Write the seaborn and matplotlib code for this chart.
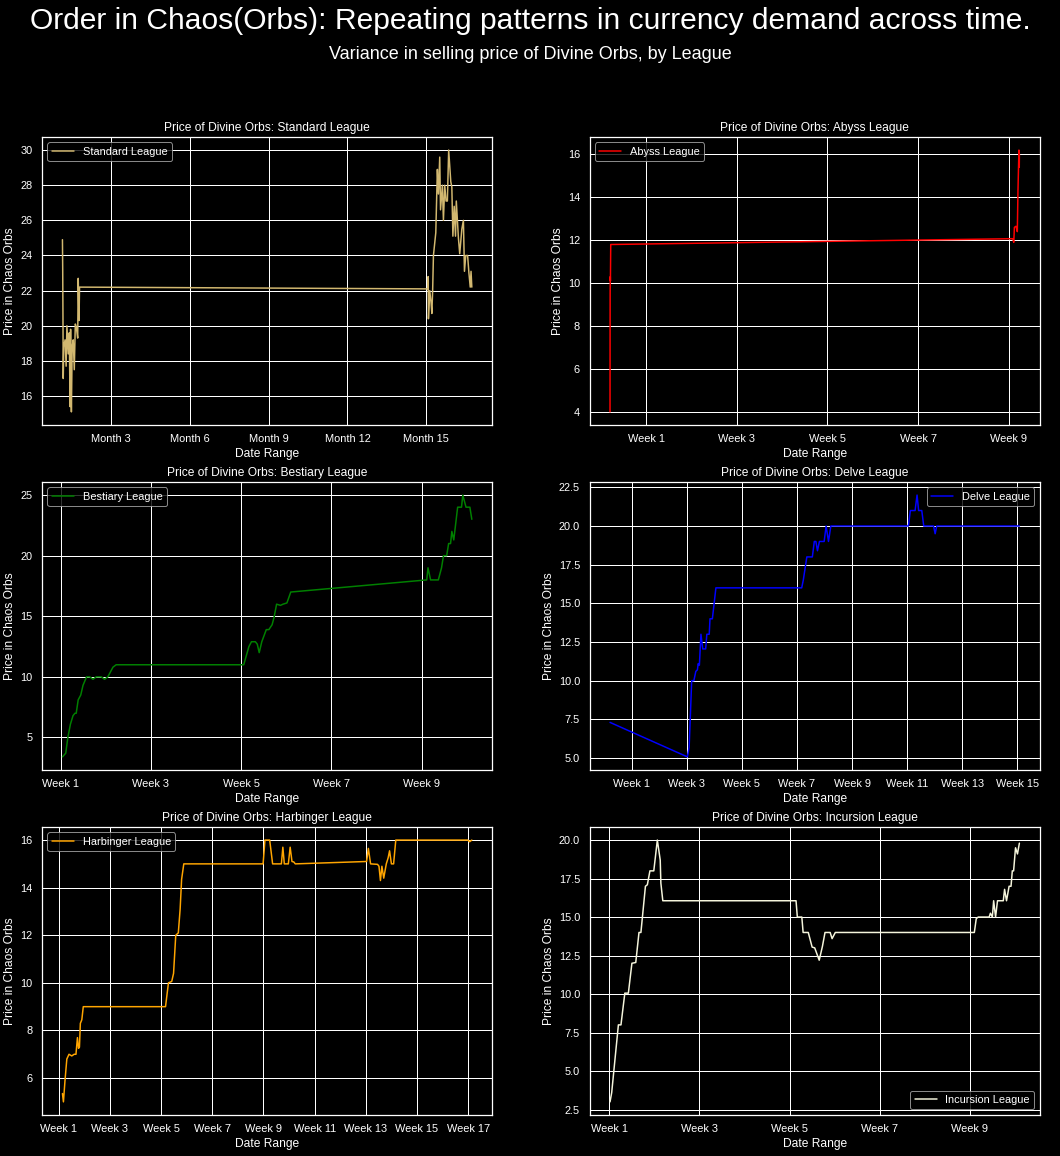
import matplotlib
matplotlib.use("Agg")
import matplotlib.pyplot as plt
import seaborn as sns
import pandas as pd

# Standard league: x in months, y in chaos orbs
standard_x = [1.16, 1.17, 1.18, 1.19, 1.21, 1.26, 1.30, 1.33, 1.38, 1.42, 1.45, 1.47, 1.50, 1.53,
              1.57, 1.61, 1.65, 1.69, 1.74, 1.76, 1.79, 1.81, 15.05, 15.07, 15.08, 15.13, 15.18,
              15.21, 15.24, 15.27, 15.36, 15.40, 15.42, 15.46, 15.51, 15.54, 15.61, 15.65, 15.70,
              15.75, 15.80, 15.85, 15.93, 15.97, 16.01, 16.06, 16.11, 16.14, 16.22, 16.27, 16.35,
              16.41, 16.45, 16.50, 16.57, 16.62, 16.67, 16.70, 16.73]
standard_y = [24.9, 23.2, 20.5, 17.0, 18.8, 19.2, 17.7, 20.0, 18.4, 19.6, 15.4, 19.8, 15.1, 18.8,
              19.2, 17.5, 20.1, 19.9, 19.3, 22.7, 20.3, 22.2, 22.1, 22.8, 20.4, 22.0, 21.3,
              20.7, 22.0, 24.0, 25.3, 27.7, 28.9, 27.5, 29.6, 26.6, 28.0, 26.0, 28.0,
              27.1, 27.1, 30.0, 28.2, 27.9, 25.1, 26.8, 25.1, 27.1, 25.0, 24.1, 25.5,
              26.0, 23.1, 24.0, 24.0, 23.0, 22.2, 23.1, 22.2]
standard_ticks = [3, 6, 9, 12, 15]
standard_labels = ["Month 3", "Month 6", "Month 9", "Month 12", "Month 15"]

# Abyss league: x in days from week 1
abyss_x = [-5.56, -5.55, -5.54, -5.52, -5.50, -5.45, 56.6, 56.75, 56.85, 57.1, 57.3, 57.4,
           57.5, 57.55, 57.6, 57.62]
abyss_y = [4.0, 7.5, 9.5, 10.3, 10.1, 11.8, 12.07, 11.9, 12.6, 12.65, 12.4, 14.3,
           15.6, 16.2, 15.4, 16.0]

# Bestiary league
bestiary_x = [0.26, 0.77, 1.1, 1.5, 1.9, 2.2, 2.4, 2.7, 3.1, 3.45, 4.0, 4.5, 5.0, 5.5, 6.3, 6.8,
              7.3, 8.1, 8.6, 28.4, 29.2, 29.6, 30.2, 30.5, 30.8, 31.2, 31.9, 32.3, 32.8, 33.1,
              33.5, 34.1, 34.5, 35.1, 35.7, 56.8, 57.0, 57.4, 58.6, 59.1, 59.4, 59.9, 60.2,
              60.5, 60.7, 61.0, 61.6, 62.2, 62.4, 62.9, 63.5, 63.8]
bestiary_y = [3.4, 3.7, 5.0, 6.1, 6.8, 7.0, 7.0, 8.1, 8.5, 9.3, 10.0, 10.0, 9.8, 10.0, 10.0, 9.8,
              10.0, 10.8, 11.0, 11.0, 12.5, 12.9, 12.9, 12.7, 12.0, 12.9, 13.9, 13.9, 14.3, 14.9,
              16.0, 15.9, 16.0, 16.1, 17.0, 18.0, 19.0, 18.0, 18.0, 19.0, 20.0, 20.0, 21.0,
              21.0, 22.0, 21.3, 24.0, 24.0, 25.0, 24.0, 24.0, 23.0]

# Delve league
delve_x = [-5.5, 14.15, 14.6, 15.25, 15.8, 16.3, 16.7, 16.9, 17.2, 17.6, 18.05, 18.8, 19.1, 19.7,
           19.9, 20.5, 21.4, 43.2, 43.6, 44.5, 45.9, 46.4, 46.8, 47.2, 47.7, 48.9, 49.4, 50.0,
           50.6, 70.3, 70.8, 72.0, 72.5, 72.9, 73.7, 74.2, 76.7, 77.1, 77.5, 98.5]
delve_y = [7.3, 5.07, 5.7, 10.0, 10.0, 10.6, 10.7, 11.1, 11.0, 13.0, 12.05, 12.05, 13.0, 13.0,
           14.0, 14.0, 16.0, 16.0, 16.5, 18.0, 18.0, 19.0, 19.0, 18.4, 19.0, 19.0, 20.0, 19.0,
           20.0, 20.0, 21.0, 21.0, 22.0, 21.0, 21.0, 20.0, 20.0, 19.5, 20.0, 20.0]

# Harbinger league
harbinger_x = [1.0, 1.27, 1.7, 2.2, 2.8, 3.55, 4.2, 4.7, 5.1, 5.4, 5.65, 5.9, 6.3, 6.7, 29.2,
               30.0, 30.9, 31.4, 32.0, 32.7, 33.2, 33.6, 34.2, 55.9, 56.4, 57.7, 58.5, 60.9,
               61.3, 61.7, 62.8, 63.3, 63.8, 64.3, 64.7, 84.2, 84.7, 85.3, 87.2, 87.6, 88.0,
               88.4, 88.9, 89.6, 90.1, 90.5, 91.0, 91.6, 92.2, 111.9, 112.4, 113.0]
harbinger_y = [5.35, 5.0, 5.9, 6.8, 7.0, 6.93, 7.0, 7.0, 7.7, 7.25, 7.3, 8.3, 8.45, 9.0, 9.0,
               10.0, 10.06, 10.4, 12.0, 12.1, 13.1, 14.35, 15.0, 15.0, 16.0, 16.0, 15.0, 15.0,
               15.7, 15.0, 15.0, 15.7, 15.1, 15.08, 15.0, 15.1, 15.65, 15.0, 14.98, 14.9, 14.3,
               14.9, 14.4, 15.0, 15.25, 15.55, 15.0, 15.0, 16.0, 16.0, 15.93, 16.0]

# Incursion league
incursion_x = [0.1, 0.36, 1.4, 1.8, 2.4, 2.95, 3.5, 4.1, 4.6, 4.9, 5.6, 5.9, 6.3, 6.9, 7.45, 7.9,
               8.0, 8.3, 29.0, 29.2, 29.9, 30.1, 30.9, 31.5, 31.9, 32.6, 33.1, 33.5, 34.3, 34.6,
               35.1, 56.7, 57.0, 57.3, 59.0, 59.2, 59.5, 59.7, 60.0, 60.3, 61.2, 61.4, 61.7,
               62.1, 62.4, 62.6, 62.8, 63.1, 63.4, 63.7]
incursion_y = [3.0, 3.6, 8.0, 8.0, 10.06, 10.06, 12.0, 12.05, 14.0, 14.0, 17.0, 17.1, 18.0, 18.0,
               20.0, 18.7, 17.2, 16.06, 16.06, 15.0, 15.0, 14.0, 14.0, 13.05, 13.0, 12.2, 13.1,
               14.0, 14.0, 13.6, 14.0, 14.0, 14.9, 15.0, 15.0, 15.25, 15.0, 16.06, 15.0, 16.06,
               16.06, 16.8, 16.06, 17.0, 17.0, 18.0, 18.0, 19.5, 19.1, 19.8]

leagues = [
    ("Standard", standard_x, standard_y, "#D2B870", "upper left", 30, "Month"),
    ("Abyss", abyss_x, abyss_y, "red", "upper left", 14, "Week"),
    ("Bestiary", bestiary_x, bestiary_y, "green", "upper left", 14, "Week"),
    ("Delve", delve_x, delve_y, "blue", "upper right", 14, "Week"),
    ("Harbinger", harbinger_x, harbinger_y, "orange", "upper left", 14, "Week"),
    ("Incursion", incursion_x, incursion_y, "beige", "lower right", 14, "Week"),
]

sns.set_theme(style="darkgrid", context="notebook", rc={
    "figure.facecolor": "black", "axes.facecolor": "black", "axes.edgecolor": "white",
    "grid.color": "white", "text.color": "white", "axes.labelcolor": "white",
    "xtick.color": "white", "ytick.color": "white", "axes.linewidth": 1.25,
    "legend.facecolor": "black", "legend.edgecolor": "#aaaaaa", "legend.framealpha": 0.8,
})
plt.rcParams["font.family"] = ["Liberation Sans", "DejaVu Sans"]

fig, axes = plt.subplots(3, 2, figsize=(1060 / 72, 1156 / 72), dpi=72)
fig.subplots_adjust(left=0.0396, right=0.981, top=0.8815, bottom=0.0355, wspace=0.216, hspace=0.198)

for ax, (name, xs, ys, color, loc, step, unit) in zip(axes.flat, leagues):
    df = pd.DataFrame({"x": xs, "y": ys})
    sns.lineplot(data=df, x="x", y="y", ax=ax, color=color, label=name + " League")
    if unit == "Month":
        ax.set_xticks(standard_ticks)
        ax.set_xticklabels(standard_labels)
    else:
        lo, hi = ax.get_xlim()
        ticks = [t for t in range(0, int(hi) + 1, step) if t >= lo]
        ax.set_xticks(ticks)
        ax.set_xticklabels(["Week %d" % (1 + 2 * i) for i in range(len(ticks))])
    ax.set_title("Price of Divine Orbs: %s League" % name, fontsize=12)
    ax.set_xlabel("Date Range")
    ax.set_ylabel("Price in Chaos Orbs")
    ax.legend(loc=loc)

fig.text(0.5, 0.982, "Order in Chaos(Orbs): Repeating patterns in currency demand across time.",
         ha="center", va="center", fontsize=30)
fig.text(0.5, 0.953, "Variance in selling price of Divine Orbs, by League",
         ha="center", va="center", fontsize=18)

fig.savefig("out.png", dpi=72, facecolor="black")
